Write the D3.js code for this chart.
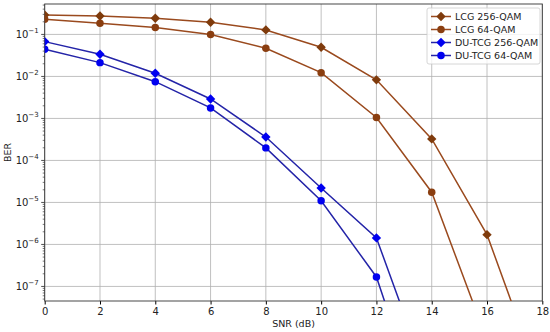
<!DOCTYPE html>
<html>
<head>
<meta charset="utf-8">
<script src="https://cdn.jsdelivr.net/npm/d3@7"></script>
<style>
body { margin: 0; background: #fff; }
svg { font-family: "DejaVu Sans", sans-serif; }
</style>
</head>
<body>
<svg width="550" height="332"></svg>
<script>
// SNR values (dB)
var snr = [0, 2, 4, 6, 8, 10, 12, 14, 16, 18]

// BER
var lcg256 = [0.29, 0.275, 0.243, 0.195, 0.128, 0.0495, 0.0083, 3.25e-4, 1.71e-6, 4e-10]
var lcg64 = [0.23, 0.185, 0.147, 0.099, 0.047, 0.0123, 1.05e-3, 1.75e-5, 5.3e-9]
var tcg256 = [0.0674, 0.0338, 0.0119, 2.9e-3, 3.6e-4, 2.2e-5, 1.43e-6, 3.4e-10]
var tcg64 = [0.0444, 0.0213, 7.5e-3, 1.78e-3, 1.99e-4, 1.1e-5, 1.68e-7, 2e-11]

var seriesNames = ["LCG 256-QAM", "LCG 64-QAM", "DU-TCG 256-QAM", "DU-TCG 64-QAM"]
var xTicks = [0, 2, 4, 6, 8, 10, 12, 14, 16, 18]
var yTicks = [-7, -6, -5, -4, -3, -2, -1]

function main(){
	var svg = d3.select("svg")
	var left = 44.7, right = 542.3, top = 4, bottom = 301

	var xScale = d3.scaleLinear().domain([0, 18]).range([left, right])
	var yScale = d3.scaleLog().domain([4.5e-8, 0.53]).range([bottom, top])

	var series = [
		{name: seriesNames[0], data: lcg256, line: "#9a4a1e", fill: "#7f3b0c", shape: "D"},
		{name: seriesNames[1], data: lcg64, line: "#9a4a1e", fill: "#8a3e10", shape: "o"},
		{name: seriesNames[2], data: tcg256, line: "#2424a8", fill: "#0000f0", shape: "D"},
		{name: seriesNames[3], data: tcg64, line: "#2424a8", fill: "#0000f0", shape: "o"}
	]

	svg.append("defs").append("clipPath").attr("id", "clip")
	.append("rect").attr("x", left).attr("y", top)
	.attr("width", right - left).attr("height", bottom - top)

	// Grid
	var grid = svg.append("g")
	grid.selectAll(".gx").data(xTicks).enter().append("line")
	.attr("x1", d => xScale(d)).attr("x2", d => xScale(d))
	.attr("y1", top).attr("y2", bottom)
	.attr("stroke", "#b0b0b0").attr("stroke-width", 0.8)
	grid.selectAll(".gy").data(yTicks).enter().append("line")
	.attr("x1", left).attr("x2", right)
	.attr("y1", d => yScale(Math.pow(10, d))).attr("y2", d => yScale(Math.pow(10, d)))
	.attr("stroke", "#b0b0b0").attr("stroke-width", 0.8)

	// Axes
	var xAxis = d3.axisBottom(xScale).tickValues(xTicks).tickSize(3.5).tickPadding(3)
	var gx = svg.append("g").attr("transform", "translate(0," + bottom + ")").call(xAxis)
	gx.select(".domain").remove()
	gx.selectAll("text").attr("font-size", 10).attr("fill", "#222").attr("font-family", "DejaVu Sans")

	var minor = []
	for (var e = -8; e <= -1; e++) {
		for (var m = 2; m <= 9; m++) {
			var v = m * Math.pow(10, e)
			if (v > 4.5e-8 && v < 0.53) minor.push(v)
		}
	}
	var ticksG = svg.append("g")
	ticksG.selectAll(".mn").data(minor).enter().append("line")
	.attr("x1", left - 2).attr("x2", left)
	.attr("y1", d => yScale(d)).attr("y2", d => yScale(d))
	.attr("stroke", "#222").attr("stroke-width", 0.6)
	ticksG.selectAll(".mj").data(yTicks).enter().append("line")
	.attr("x1", left - 3.5).attr("x2", left)
	.attr("y1", d => yScale(Math.pow(10, d))).attr("y2", d => yScale(Math.pow(10, d)))
	.attr("stroke", "#222").attr("stroke-width", 0.8)

	var labels = ticksG.selectAll(".yl").data(yTicks).enter().append("text")
	.attr("x", left - 6).attr("y", d => yScale(Math.pow(10, d)) + 3.5)
	.attr("text-anchor", "end").attr("font-size", 10).attr("fill", "#222")
	labels.append("tspan").text("10")
	labels.append("tspan").attr("dy", -5).attr("font-size", 7).text(d => "\u2212" + Math.abs(d))

	svg.append("rect").attr("x", left).attr("y", top)
	.attr("width", right - left).attr("height", bottom - top)
	.attr("fill", "none").attr("stroke", "#333").attr("stroke-width", 0.9)

	svg.append("text").attr("x", (left + right) / 2).attr("y", 327)
	.attr("text-anchor", "middle").attr("font-size", 9.5).attr("fill", "#222").text("SNR (dB)")
	svg.append("text").attr("transform", "translate(11," + ((top + bottom) / 2) + ") rotate(-90)")
	.attr("text-anchor", "middle").attr("font-size", 9.5).attr("fill", "#222").text("BER")

	// Lines and markers
	var line = d3.line().x((d, i) => xScale(snr[i])).y(d => yScale(d))
	var plot = svg.append("g").attr("clip-path", "url(#clip)")
	var diamond = d3.symbol().type(d3.symbolSquare).size(44)
	var circle = d3.symbol().type(d3.symbolCircle).size(44)

	series.forEach(function(s){
		plot.append("path").datum(s.data).attr("d", line)
		.attr("fill", "none").attr("stroke", s.line).attr("stroke-width", 1.5)
		plot.selectAll(null).data(s.data).enter().append("path")
		.attr("d", s.shape == "D" ? diamond : circle)
		.attr("transform", function(d, i){
			return "translate(" + xScale(snr[i]) + "," + yScale(d) + ")" + (s.shape == "D" ? " rotate(45)" : "")
		})
		.attr("fill", s.fill)
	})

	// Legend
	var lg = svg.append("g")
	lg.append("rect").attr("x", 427).attr("y", 8).attr("width", 113).attr("height", 56)
	.attr("rx", 2).attr("fill", "#fff").attr("fill-opacity", 0.8)
	.attr("stroke", "#ccc").attr("stroke-width", 0.8)
	series.forEach(function(s, i){
		var y = 16.5 + i * 13
		lg.append("line").attr("x1", 431).attr("x2", 451).attr("y1", y).attr("y2", y)
		.attr("stroke", s.line).attr("stroke-width", 1.5)
		lg.append("path").attr("d", s.shape == "D" ? diamond : circle)
		.attr("transform", "translate(441," + y + ")" + (s.shape == "D" ? " rotate(45)" : ""))
		.attr("fill", s.fill)
		lg.append("text").attr("x", 455).attr("y", y + 3.5)
		.attr("font-size", 9.5).attr("fill", "#222").text(s.name)
	})
}

window.onload = function() {
	main()
}
</script>
</body>
</html>
